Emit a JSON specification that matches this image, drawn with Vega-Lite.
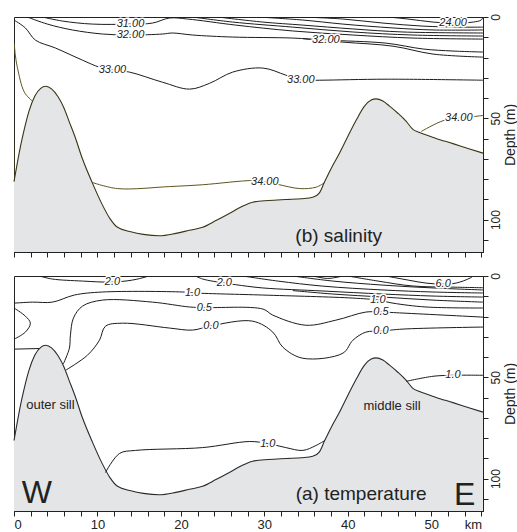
{
"$schema": "https://vega.github.io/schema/vega-lite/v6.json",
"padding": {"left": 11, "top": 13, "right": 0, "bottom": 0},
"background": "white",
"bounds": "flush",
"spacing": 24,
"config": {
  "font": "Liberation Sans",
  "view": {"stroke": "#222", "strokeWidth": 1},
  "axis": {"domainColor": "#222", "tickColor": "#222", "labelColor": "#222", "titleColor": "#222", "grid": false, "titleFontWeight": "normal"}
},
"datasets": {
  "bathy": [
    {"x":0,"d":81.2},{"x":0.4,"d":72},{"x":0.8,"d":63.4},{"x":1.2,"d":56},{"x":1.8,"d":46.5},{"x":2.5,"d":39},{"x":3.2,"d":35.2},{"x":3.8,"d":34.2},{"x":4.5,"d":35.5},{"x":5.3,"d":39.5},{"x":6.0,"d":45},{"x":6.6,"d":51.5},{"x":7.3,"d":59},{"x":8.2,"d":70},{"x":9.4,"d":82},{"x":10.5,"d":92},{"x":11.5,"d":99.5},{"x":12.4,"d":103.8},{"x":14,"d":106},{"x":15.5,"d":107.3},{"x":17.4,"d":108},{"x":19.4,"d":106.8},{"x":21,"d":105.3},{"x":22.6,"d":103.8},{"x":24.2,"d":100.5},{"x":25.8,"d":97},{"x":27.2,"d":93.8},{"x":28.6,"d":91.4},{"x":30.5,"d":90.6},{"x":32.6,"d":90.1},{"x":34.5,"d":89.7},{"x":35.8,"d":89},{"x":36.6,"d":86.8},{"x":37.2,"d":81.5},{"x":38.1,"d":74},{"x":39,"d":67.3},{"x":40,"d":59},{"x":41,"d":51},{"x":42,"d":44},{"x":42.8,"d":41},{"x":43.4,"d":40.4},{"x":44.2,"d":41.5},{"x":45,"d":44},{"x":46,"d":47.5},{"x":47,"d":51.5},{"x":47.8,"d":55.5},{"x":48.6,"d":57},{"x":50.5,"d":59.8},{"x":52.6,"d":62.5},{"x":54.5,"d":65},{"x":56.2,"d":67.2}
  ],
  "contours": [
    {"p":"s","id":"s24","lv":24,"o":0,"x":44.81,"d":0},{"p":"s","id":"s24","lv":24,"o":1,"x":47.21,"d":1.0},{"p":"s","id":"s24","lv":24,"o":2,"x":50.21,"d":2.5},{"p":"s","id":"s24","lv":24,"o":3,"x":52.61,"d":3.0},{"p":"s","id":"s24","lv":24,"o":4,"x":55.02,"d":2.5},{"p":"s","id":"s24","lv":24,"o":5,"x":55.98,"d":1.5},{"p":"s","id":"s24","lv":24,"o":6,"x":56.2,"d":0},
    {"p":"s","id":"s25","lv":25,"o":0,"x":34.61,"d":0},{"p":"s","id":"s25","lv":25,"o":1,"x":39.41,"d":1.0},{"p":"s","id":"s25","lv":25,"o":2,"x":44.21,"d":3.0},{"p":"s","id":"s25","lv":25,"o":3,"x":49.02,"d":4.5},{"p":"s","id":"s25","lv":25,"o":4,"x":53.22,"d":5.0},{"p":"s","id":"s25","lv":25,"o":5,"x":56.2,"d":5.0},
    {"p":"s","id":"s26","lv":26,"o":0,"x":29.21,"d":0},{"p":"s","id":"s26","lv":26,"o":1,"x":34.61,"d":1.5},{"p":"s","id":"s26","lv":26,"o":2,"x":39.41,"d":3.5},{"p":"s","id":"s26","lv":26,"o":3,"x":45.41,"d":5.4},{"p":"s","id":"s26","lv":26,"o":4,"x":50.21,"d":6.4},{"p":"s","id":"s26","lv":26,"o":5,"x":56.2,"d":6.4},
    {"p":"s","id":"s27","lv":27,"o":0,"x":24.41,"d":0},{"p":"s","id":"s27","lv":27,"o":1,"x":29.81,"d":2.5},{"p":"s","id":"s27","lv":27,"o":2,"x":34.61,"d":4.0},{"p":"s","id":"s27","lv":27,"o":3,"x":40.61,"d":5.9},{"p":"s","id":"s27","lv":27,"o":4,"x":46.61,"d":7.4},{"p":"s","id":"s27","lv":27,"o":5,"x":56.2,"d":7.9},
    {"p":"s","id":"s28","lv":28,"o":0,"x":21.4,"d":0},{"p":"s","id":"s28","lv":28,"o":1,"x":26.21,"d":2.5},{"p":"s","id":"s28","lv":28,"o":2,"x":33.41,"d":5.0},{"p":"s","id":"s28","lv":28,"o":3,"x":40.61,"d":7.4},{"p":"s","id":"s28","lv":28,"o":4,"x":47.81,"d":8.9},{"p":"s","id":"s28","lv":28,"o":5,"x":56.2,"d":9.4},
    {"p":"s","id":"s31","lv":31,"o":0,"x":3.4,"d":0},{"p":"s","id":"s31","lv":31,"o":1,"x":5.8,"d":2.0},{"p":"s","id":"s31","lv":31,"o":2,"x":9.4,"d":3.5},{"p":"s","id":"s31","lv":31,"o":3,"x":13.96,"d":3.5},{"p":"s","id":"s31","lv":31,"o":4,"x":16.6,"d":3.0},{"p":"s","id":"s31","lv":31,"o":5,"x":18.64,"d":0.5},{"p":"s","id":"s31","lv":31,"o":6,"x":20.8,"d":1.0},{"p":"s","id":"s31","lv":31,"o":7,"x":26.57,"d":4.0},{"p":"s","id":"s31","lv":31,"o":8,"x":33.41,"d":6.9},{"p":"s","id":"s31","lv":31,"o":9,"x":40.61,"d":8.9},{"p":"s","id":"s31","lv":31,"o":10,"x":47.81,"d":10.4},{"p":"s","id":"s31","lv":31,"o":11,"x":56.2,"d":10.9},
    {"p":"s","id":"s32","lv":32,"o":0,"x":1.6,"d":0},{"p":"s","id":"s32","lv":32,"o":1,"x":4.0,"d":3.5},{"p":"s","id":"s32","lv":32,"o":2,"x":7.0,"d":6.4},{"p":"s","id":"s32","lv":32,"o":3,"x":10.6,"d":8.4},{"p":"s","id":"s32","lv":32,"o":4,"x":13.96,"d":8.9},{"p":"s","id":"s32","lv":32,"o":5,"x":17.8,"d":8.4},{"p":"s","id":"s32","lv":32,"o":6,"x":19.0,"d":7.9},{"p":"s","id":"s32","lv":32,"o":7,"x":21.4,"d":8.9},{"p":"s","id":"s32","lv":32,"o":8,"x":26.21,"d":9.9},{"p":"s","id":"s32","lv":32,"o":9,"x":33.41,"d":10.4},{"p":"s","id":"s32","lv":32,"o":10,"x":37.37,"d":11.4},{"p":"s","id":"s32","lv":32,"o":11,"x":44.57,"d":12.9},{"p":"s","id":"s32","lv":32,"o":12,"x":49.02,"d":15.8},{"p":"s","id":"s32","lv":32,"o":13,"x":52.61,"d":16.8},{"p":"s","id":"s32","lv":32,"o":14,"x":56.2,"d":17.3},
    {"p":"s","id":"s32b","lv":32.5,"o":0,"x":34.61,"d":10.7},{"p":"s","id":"s32b","lv":32.5,"o":1,"x":39.41,"d":12.4},{"p":"s","id":"s32b","lv":32.5,"o":2,"x":45.41,"d":14.4},{"p":"s","id":"s32b","lv":32.5,"o":3,"x":50.21,"d":18.3},{"p":"s","id":"s32b","lv":32.5,"o":4,"x":56.2,"d":19.8},
    {"p":"s","id":"s33","lv":33,"o":0,"x":0,"d":1.5},{"p":"s","id":"s33","lv":33,"o":1,"x":1.36,"d":5.4},{"p":"s","id":"s33","lv":33,"o":2,"x":2.56,"d":11.4},{"p":"s","id":"s33","lv":33,"o":3,"x":4.96,"d":15.3},{"p":"s","id":"s33","lv":33,"o":4,"x":8.2,"d":21.3},{"p":"s","id":"s33","lv":33,"o":5,"x":10.24,"d":24.8},{"p":"s","id":"s33","lv":33,"o":6,"x":11.8,"d":26.2},{"p":"s","id":"s33","lv":33,"o":7,"x":13.84,"d":27.2},{"p":"s","id":"s33","lv":33,"o":8,"x":17.8,"d":32.2},{"p":"s","id":"s33","lv":33,"o":9,"x":21.04,"d":35.6},{"p":"s","id":"s33","lv":33,"o":10,"x":23.45,"d":32.7},{"p":"s","id":"s33","lv":33,"o":11,"x":26.21,"d":27.2},{"p":"s","id":"s33","lv":33,"o":12,"x":29.81,"d":25.2},{"p":"s","id":"s33","lv":33,"o":13,"x":32.57,"d":28.7},{"p":"s","id":"s33","lv":33,"o":14,"x":34.37,"d":31.2},{"p":"s","id":"s33","lv":33,"o":15,"x":36.65,"d":31.2},{"p":"s","id":"s33","lv":33,"o":16,"x":44.57,"d":30.7},{"p":"s","id":"s33","lv":33,"o":17,"x":56.2,"d":31.2},
    {"p":"s","id":"s34a","lv":34,"o":0,"x":0,"d":81.2},{"p":"s","id":"s34a","lv":34,"o":1,"x":0,"d":12.9},{"p":"s","id":"s34a","lv":34,"o":2,"x":0.16,"d":18.8},{"p":"s","id":"s34a","lv":34,"o":3,"x":0.4,"d":24.8},{"p":"s","id":"s34a","lv":34,"o":4,"x":1.24,"d":37.1},{"p":"s","id":"s34a","lv":34,"o":5,"x":2.2,"d":41.5},
    {"p":"s","id":"s34b","lv":34,"o":0,"x":9.4,"d":81.7},{"p":"s","id":"s34b","lv":34,"o":1,"x":12.41,"d":84.7},{"p":"s","id":"s34b","lv":34,"o":2,"x":18.64,"d":83.7},{"p":"s","id":"s34b","lv":34,"o":3,"x":22.6,"d":82.8},{"p":"s","id":"s34b","lv":34,"o":4,"x":28.61,"d":80.7},{"p":"s","id":"s34b","lv":34,"o":5,"x":30.05,"d":81.2},{"p":"s","id":"s34b","lv":34,"o":6,"x":31.5,"d":82.5},{"p":"s","id":"s34b","lv":34,"o":7,"x":34.25,"d":84.7},{"p":"s","id":"s34b","lv":34,"o":8,"x":36.2,"d":84},{"p":"s","id":"s34b","lv":34,"o":9,"x":37.25,"d":81.7},
    {"p":"s","id":"s34c","lv":34,"o":0,"x":48.8,"d":56.5},{"p":"s","id":"s34c","lv":34,"o":1,"x":51.4,"d":51.2},{"p":"s","id":"s34c","lv":34,"o":2,"x":53.0,"d":50.1},{"p":"s","id":"s34c","lv":34,"o":3,"x":55.0,"d":49.2},{"p":"s","id":"s34c","lv":34,"o":4,"x":56.2,"d":48.6},
    {"p":"t","id":"t2a","lv":2,"o":0,"x":3.04,"d":0},{"p":"t","id":"t2a","lv":2,"o":1,"x":4.6,"d":1.5},{"p":"t","id":"t2a","lv":2,"o":2,"x":8.2,"d":2.5},{"p":"t","id":"t2a","lv":2,"o":3,"x":11.8,"d":3.0},{"p":"t","id":"t2a","lv":2,"o":4,"x":14.2,"d":2.0},{"p":"t","id":"t2a","lv":2,"o":5,"x":15.76,"d":0.5},{"p":"t","id":"t2a","lv":2,"o":6,"x":16.12,"d":0},
    {"p":"t","id":"t2b","lv":2,"o":0,"x":21.76,"d":0},{"p":"t","id":"t2b","lv":2,"o":1,"x":22.61,"d":1.5},{"p":"t","id":"t2b","lv":2,"o":2,"x":25.2,"d":3.5},{"p":"t","id":"t2b","lv":2,"o":3,"x":26.57,"d":4.3},{"p":"t","id":"t2b","lv":2,"o":4,"x":29.81,"d":5.9},{"p":"t","id":"t2b","lv":2,"o":5,"x":37.01,"d":7.4},{"p":"t","id":"t2b","lv":2,"o":6,"x":44.21,"d":8.9},{"p":"t","id":"t2b","lv":2,"o":7,"x":50.21,"d":9.9},{"p":"t","id":"t2b","lv":2,"o":8,"x":56.2,"d":10.4},
    {"p":"t","id":"t3","lv":3,"o":0,"x":27.41,"d":0},{"p":"t","id":"t3","lv":3,"o":1,"x":31.61,"d":2.5},{"p":"t","id":"t3","lv":3,"o":2,"x":37.01,"d":5.0},{"p":"t","id":"t3","lv":3,"o":3,"x":44.21,"d":6.9},{"p":"t","id":"t3","lv":3,"o":4,"x":50.21,"d":7.9},{"p":"t","id":"t3","lv":3,"o":5,"x":56.2,"d":8.4},
    {"p":"t","id":"t4","lv":4,"o":0,"x":33.41,"d":0},{"p":"t","id":"t4","lv":4,"o":1,"x":38.21,"d":2.5},{"p":"t","id":"t4","lv":4,"o":2,"x":44.21,"d":4.5},{"p":"t","id":"t4","lv":4,"o":3,"x":50.21,"d":5.9},{"p":"t","id":"t4","lv":4,"o":4,"x":56.2,"d":6.9},
    {"p":"t","id":"t5","lv":5,"o":0,"x":40.01,"d":0},{"p":"t","id":"t5","lv":5,"o":1,"x":43.61,"d":2.5},{"p":"t","id":"t5","lv":5,"o":2,"x":47.81,"d":4.95},{"p":"t","id":"t5","lv":5,"o":3,"x":52.61,"d":5.5},{"p":"t","id":"t5","lv":5,"o":4,"x":56.2,"d":5.8},
    {"p":"t","id":"t6","lv":6,"o":0,"x":44.57,"d":0},{"p":"t","id":"t6","lv":6,"o":1,"x":47.21,"d":2.0},{"p":"t","id":"t6","lv":6,"o":2,"x":49.37,"d":3.5},{"p":"t","id":"t6","lv":6,"o":3,"x":51.42,"d":4.0},{"p":"t","id":"t6","lv":6,"o":4,"x":52.98,"d":3.5},{"p":"t","id":"t6","lv":6,"o":5,"x":54.66,"d":1.0},{"p":"t","id":"t6","lv":6,"o":6,"x":55.02,"d":0},
    {"p":"t","id":"tsm","lv":2.5,"o":0,"x":35.83,"d":0},{"p":"t","id":"tsm","lv":2.5,"o":1,"x":37.61,"d":1.2},{"p":"t","id":"tsm","lv":2.5,"o":2,"x":39.41,"d":0},
    {"p":"t","id":"t15","lv":1.5,"o":0,"x":33.41,"d":7.2},{"p":"t","id":"t15","lv":1.5,"o":1,"x":38.21,"d":8.9},{"p":"t","id":"t15","lv":1.5,"o":2,"x":44.21,"d":10.4},{"p":"t","id":"t15","lv":1.5,"o":3,"x":50.21,"d":11.9},{"p":"t","id":"t15","lv":1.5,"o":4,"x":56.2,"d":12.9},
    {"p":"t","id":"t1","lv":1,"o":0,"x":0,"d":13.4},{"p":"t","id":"t1","lv":1,"o":1,"x":2.2,"d":12.9},{"p":"t","id":"t1","lv":1,"o":2,"x":4.6,"d":12.9},{"p":"t","id":"t1","lv":1,"o":3,"x":7.24,"d":9.4},{"p":"t","id":"t1","lv":1,"o":4,"x":10.6,"d":7.9},{"p":"t","id":"t1","lv":1,"o":5,"x":20.2,"d":7.9},{"p":"t","id":"t1","lv":1,"o":6,"x":21.76,"d":8.4},{"p":"t","id":"t1","lv":1,"o":7,"x":29.81,"d":9.4},{"p":"t","id":"t1","lv":1,"o":8,"x":40.61,"d":10.9},{"p":"t","id":"t1","lv":1,"o":9,"x":43.61,"d":11.9},{"p":"t","id":"t1","lv":1,"o":10,"x":45.41,"d":13.4},{"p":"t","id":"t1","lv":1,"o":11,"x":49.37,"d":15.3},{"p":"t","id":"t1","lv":1,"o":12,"x":56.2,"d":15.8},
    {"p":"t","id":"tloop","lv":0.5,"o":0,"x":0,"d":15.8},{"p":"t","id":"tloop","lv":0.5,"o":1,"x":1.36,"d":19.8},{"p":"t","id":"tloop","lv":0.5,"o":2,"x":1.96,"d":23.3},{"p":"t","id":"tloop","lv":0.5,"o":3,"x":1.36,"d":27.7},{"p":"t","id":"tloop","lv":0.5,"o":4,"x":0,"d":31.2},
    {"p":"t","id":"tshort","lv":0,"o":0,"x":0,"d":36.1},{"p":"t","id":"tshort","lv":0,"o":1,"x":3.0,"d":35.8},
    {"p":"t","id":"t05","lv":0.5,"o":0,"x":5.9,"d":43.5},{"p":"t","id":"t05","lv":0.5,"o":1,"x":6.64,"d":35.6},{"p":"t","id":"t05","lv":0.5,"o":2,"x":6.76,"d":29.2},{"p":"t","id":"t05","lv":0.5,"o":3,"x":7.12,"d":20.8},{"p":"t","id":"t05","lv":0.5,"o":4,"x":8.2,"d":14.9},{"p":"t","id":"t05","lv":0.5,"o":5,"x":10.6,"d":11.9},{"p":"t","id":"t05","lv":0.5,"o":6,"x":16.6,"d":12.9},{"p":"t","id":"t05","lv":0.5,"o":7,"x":21.04,"d":15.3},{"p":"t","id":"t05","lv":0.5,"o":8,"x":22.8,"d":15.6},{"p":"t","id":"t05","lv":0.5,"o":9,"x":29.81,"d":16.3},{"p":"t","id":"t05","lv":0.5,"o":10,"x":31.01,"d":19.3},{"p":"t","id":"t05","lv":0.5,"o":11,"x":34.97,"d":24.3},{"p":"t","id":"t05","lv":0.5,"o":12,"x":38.57,"d":21.8},{"p":"t","id":"t05","lv":0.5,"o":13,"x":42.17,"d":17.8},{"p":"t","id":"t05","lv":0.5,"o":14,"x":43.97,"d":17.8},{"p":"t","id":"t05","lv":0.5,"o":15,"x":46.61,"d":18.3},{"p":"t","id":"t05","lv":0.5,"o":16,"x":56.2,"d":20.3},
    {"p":"t","id":"t0","lv":0,"o":0,"x":6.2,"d":46.5},{"p":"t","id":"t0","lv":0,"o":1,"x":8.8,"d":39.1},{"p":"t","id":"t0","lv":0,"o":2,"x":10.24,"d":31.7},{"p":"t","id":"t0","lv":0,"o":3,"x":10.96,"d":24.8},{"p":"t","id":"t0","lv":0,"o":4,"x":13.0,"d":23.3},{"p":"t","id":"t0","lv":0,"o":5,"x":18.64,"d":25.7},{"p":"t","id":"t0","lv":0,"o":6,"x":21.4,"d":26.7},{"p":"t","id":"t0","lv":0,"o":7,"x":23.6,"d":24.6},{"p":"t","id":"t0","lv":0,"o":8,"x":28.61,"d":22.3},{"p":"t","id":"t0","lv":0,"o":9,"x":31.01,"d":27.7},{"p":"t","id":"t0","lv":0,"o":10,"x":32.21,"d":35.1},{"p":"t","id":"t0","lv":0,"o":11,"x":34.61,"d":40.6},{"p":"t","id":"t0","lv":0,"o":12,"x":39.41,"d":38.1},{"p":"t","id":"t0","lv":0,"o":13,"x":40.61,"d":31.7},{"p":"t","id":"t0","lv":0,"o":14,"x":42.17,"d":27.7},{"p":"t","id":"t0","lv":0,"o":15,"x":43.97,"d":27.2},{"p":"t","id":"t0","lv":0,"o":16,"x":46.61,"d":26.2},{"p":"t","id":"t0","lv":0,"o":17,"x":56.2,"d":25.2},
    {"p":"t","id":"t1b","lv":1,"o":0,"x":10.96,"d":97.0},{"p":"t","id":"t1b","lv":1,"o":1,"x":12.64,"d":87.6},{"p":"t","id":"t1b","lv":1,"o":2,"x":14.56,"d":86.1},{"p":"t","id":"t1b","lv":1,"o":3,"x":22.6,"d":84.7},{"p":"t","id":"t1b","lv":1,"o":4,"x":28.25,"d":81.7},{"p":"t","id":"t1b","lv":1,"o":5,"x":30.41,"d":82.7},{"p":"t","id":"t1b","lv":1,"o":6,"x":32.57,"d":84.7},{"p":"t","id":"t1b","lv":1,"o":7,"x":34.61,"d":86.1},{"p":"t","id":"t1b","lv":1,"o":8,"x":36.17,"d":83.7},{"p":"t","id":"t1b","lv":1,"o":9,"x":37.25,"d":81.2},
    {"p":"t","id":"t1c","lv":1,"o":0,"x":47.0,"d":52.0},{"p":"t","id":"t1c","lv":1,"o":1,"x":50.21,"d":49.5},{"p":"t","id":"t1c","lv":1,"o":2,"x":52.6,"d":49},{"p":"t","id":"t1c","lv":1,"o":3,"x":56.2,"d":49}
  ],
  "labels": [
    {"p":"s","t":"31.00","x":13.96,"d":3.5},{"p":"s","t":"32.00","x":13.96,"d":8.9},{"p":"s","t":"32.00","x":37.37,"d":11.4},{"p":"s","t":"33.00","x":11.8,"d":26.2},{"p":"s","t":"33.00","x":34.37,"d":31.2},{"p":"s","t":"24.00","x":52.61,"d":3.0},{"p":"s","t":"34.00","x":30.05,"d":81.2},{"p":"s","t":"34.00","x":53.3,"d":49.9},
    {"p":"t","t":"2.0","x":11.8,"d":3.0},{"p":"t","t":"2.0","x":25.2,"d":3.5},{"p":"t","t":"6.0","x":51.42,"d":4.0},{"p":"t","t":"1.0","x":21.4,"d":8.2},{"p":"t","t":"1.0","x":43.61,"d":11.9},{"p":"t","t":"0.5","x":22.8,"d":15.6},{"p":"t","t":"0.5","x":43.97,"d":17.8},{"p":"t","t":"0.0","x":23.6,"d":24.6},{"p":"t","t":"0.0","x":43.97,"d":27.2},{"p":"t","t":"1.0","x":52.6,"d":49},{"p":"t","t":"1.0","x":30.41,"d":82.7}
  ],
  "notes": [
    {"p":"s","k":"title","t":"(b) salinity","x":38.9,"d":108},
    {"p":"t","k":"title","t":"(a) temperature","x":41.6,"d":107.4},
    {"p":"t","k":"sill","t":"outer sill","x":4.36,"d":63.9},
    {"p":"t","k":"sill","t":"middle sill","x":45.3,"d":64.4},
    {"p":"t","k":"big","t":"W","x":2.74,"d":106.9},
    {"p":"t","k":"big","t":"E","x":54.0,"d":107.9}
  ]
},
"vconcat": [
  {
    "width": 469, "height": 235,
    "encoding": {
      "x": {"field": "x", "type": "quantitative", "scale": {"domain": [0, 56.2], "nice": false, "zero": false},
            "axis": {"values": [0,2,4,6,8,10,12,14,16,18,20,22,24,26,28,30,32,34,36,38,40,42,44,46,48,50,52,54,56], "labels": false, "title": null, "tickSize": 5}},
      "y": {"field": "d", "type": "quantitative", "scale": {"domain": [0, 116], "reverse": true, "nice": false, "zero": false},
            "axis": {"orient": "right", "values": [0,10,20,30,40,50,60,70,80,90,100,110], "labelExpr": "datum.value % 50 == 0 ? datum.label : ''", "labelAngle": 270, "labelAlign": "center", "labelBaseline": "top", "labelFontSize": 12, "labelPadding": 2, "tickSize": 5, "title": "Depth (m)", "titleAngle": 270, "titleBaseline": "top", "titleFontSize": 14, "titlePadding": 2}}
    },
    "layer": [
      {"data": {"name": "bathy"}, "mark": {"type": "area", "interpolate": "monotone", "fill": "#e4e5e7", "clip": true}, "encoding": {"y2": {"datum": 116}}},
      {"data": {"name": "contours"}, "transform": [{"filter": "datum.p == 's' && datum.lv != 34"}], "mark": {"type": "line", "interpolate": "catmull-rom", "stroke": "#1c1c1c", "strokeWidth": 1, "clip": true}, "encoding": {"detail": {"field": "id"}, "order": {"field": "o", "type": "quantitative"}}},
      {"data": {"name": "contours"}, "transform": [{"filter": "datum.p == 's' && datum.lv == 34"}], "mark": {"type": "line", "interpolate": "catmull-rom", "stroke": "#5e5520", "strokeWidth": 1, "clip": true}, "encoding": {"detail": {"field": "id"}, "order": {"field": "o", "type": "quantitative"}}},
      {"data": {"name": "bathy"}, "mark": {"type": "line", "interpolate": "monotone", "stroke": "#3a3314", "strokeWidth": 1.1}, "encoding": {}},
      {"data": {"name": "labels"}, "transform": [{"filter": "datum.p == 's'"}], "mark": {"type": "text", "fontSize": 11, "fontStyle": "italic", "fill": "white", "stroke": "white", "strokeWidth": 3, "baseline": "middle", "align": "center"}, "encoding": {"text": {"field": "t"}}},
      {"data": {"name": "labels"}, "transform": [{"filter": "datum.p == 's'"}], "mark": {"type": "text", "fontSize": 11, "fontStyle": "italic", "fill": "#222", "baseline": "middle", "align": "center"}, "encoding": {"text": {"field": "t"}}},
      {"data": {"name": "notes"}, "transform": [{"filter": "datum.p == 's'"}], "mark": {"type": "text", "fontSize": 19, "fill": "#222", "baseline": "middle", "align": "center"}, "encoding": {"text": {"field": "t"}}}
    ]
  },
  {
    "width": 469, "height": 235,
    "encoding": {
      "x": {"field": "x", "type": "quantitative", "scale": {"domain": [0, 56.2], "nice": false, "zero": false},
            "axis": {"values": [0,2,4,6,8,10,12,14,16,18,20,22,24,26,28,30,32,34,36,38,40,42,44,46,48,50,52,54,55,56], "labelExpr": "datum.value == 55 ? 'km' : (datum.value % 10 == 0 ? datum.label : '')", "labelFontSize": 13, "labelPadding": 2, "labelFlush": true, "title": null, "tickSize": 5, "tickOpacity": {"condition": {"test": "datum.value == 55", "value": 0}, "value": 1}}},
      "y": {"field": "d", "type": "quantitative", "scale": {"domain": [0, 116], "reverse": true, "nice": false, "zero": false},
            "axis": {"orient": "right", "values": [0,10,20,30,40,50,60,70,80,90,100,110], "labelExpr": "datum.value % 50 == 0 ? datum.label : ''", "labelAngle": 270, "labelAlign": "center", "labelBaseline": "top", "labelFontSize": 12, "labelPadding": 2, "tickSize": 5, "title": "Depth (m)", "titleAngle": 270, "titleBaseline": "top", "titleFontSize": 14, "titlePadding": 2}}
    },
    "layer": [
      {"data": {"name": "bathy"}, "mark": {"type": "area", "interpolate": "monotone", "fill": "#e4e5e7", "clip": true}, "encoding": {"y2": {"datum": 116}}},
      {"data": {"name": "contours"}, "transform": [{"filter": "datum.p == 't'"}], "mark": {"type": "line", "interpolate": "catmull-rom", "stroke": "#1c1c1c", "strokeWidth": 1, "clip": true}, "encoding": {"detail": {"field": "id"}, "order": {"field": "o", "type": "quantitative"}}},
      {"data": {"name": "bathy"}, "mark": {"type": "line", "interpolate": "monotone", "stroke": "#2a2a2a", "strokeWidth": 1.1}, "encoding": {}},
      {"data": {"name": "labels"}, "transform": [{"filter": "datum.p == 't'"}], "mark": {"type": "text", "fontSize": 11, "fontStyle": "italic", "fill": "white", "stroke": "white", "strokeWidth": 3, "baseline": "middle", "align": "center"}, "encoding": {"text": {"field": "t"}}},
      {"data": {"name": "labels"}, "transform": [{"filter": "datum.p == 't'"}], "mark": {"type": "text", "fontSize": 11, "fontStyle": "italic", "fill": "#222", "baseline": "middle", "align": "center"}, "encoding": {"text": {"field": "t"}}},
      {"data": {"name": "notes"}, "transform": [{"filter": "datum.p == 't' && datum.k == 'title'"}], "mark": {"type": "text", "fontSize": 19, "fill": "#222", "baseline": "middle", "align": "center"}, "encoding": {"text": {"field": "t"}}},
      {"data": {"name": "notes"}, "transform": [{"filter": "datum.p == 't' && datum.k == 'sill'"}], "mark": {"type": "text", "fontSize": 13, "fill": "#222", "baseline": "middle", "align": "center"}, "encoding": {"text": {"field": "t"}}},
      {"data": {"name": "notes"}, "transform": [{"filter": "datum.p == 't' && datum.k == 'big'"}], "mark": {"type": "text", "fontSize": 32, "fill": "#222", "baseline": "middle", "align": "center"}, "encoding": {"text": {"field": "t"}}}
    ]
  }
]
}
